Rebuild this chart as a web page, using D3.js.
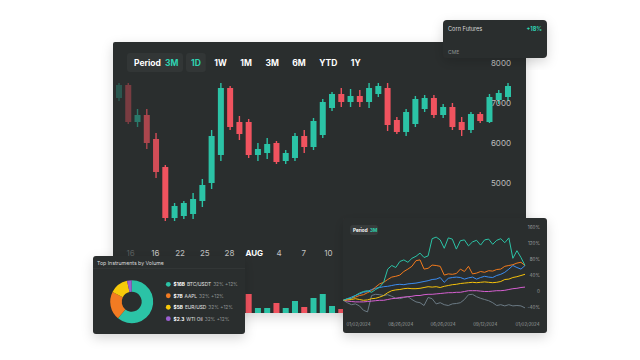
<!DOCTYPE html>
<html><head><meta charset="utf-8">
<script src="https://cdn.jsdelivr.net/npm/d3@7"></script>
<style>
html,body{margin:0;padding:0;background:#fff;}
svg{display:block;font-family:Inter,"Noto Sans",sans-serif;}
</style></head><body>
<svg id="c" width="640" height="360"></svg>
<script>
// ---------- data ----------
const candleOpen  = [7125,7450,6525,6700,6100,5400,4125,4175,4225,4550,5000,5700,7375,6525,6525,5700,5750,6000,5550,5625,6175,5900,6200,6875,7225,7025,7175,7025,7225,7375,6575,6275,6475,6850,7125,6700,6900,6525,6325,6725,6525,7075,7150];
const candleClose = [7450,6525,6700,6000,5275,4125,4425,4500,4600,4950,6175,7375,6400,6225,5700,5850,5975,5525,5750,6175,5900,6550,7025,7225,7025,7175,7025,7375,7425,6450,6275,6775,7100,7125,6700,6900,6400,6325,6725,6550,7150,7250,7425];
const candleHigh  = [7500,7500,6850,6850,6250,5450,4500,4550,4750,5100,6325,7500,7425,6675,6600,6000,6125,6050,5825,6250,6325,6625,7100,7275,7375,7350,7325,7500,7500,7500,6650,6850,7175,7200,7200,6975,7000,6650,6775,6775,7225,7325,7500];
const candleLow   = [7050,6475,6400,5850,5125,4050,4050,4100,4100,4400,4850,5550,6325,6075,5625,5550,5600,5475,5475,5550,5750,5825,6125,6800,6900,6900,6900,6875,7150,6300,6225,6175,6400,6775,6625,6625,6325,6175,6250,6500,6500,6975,7050];
const volumeM     = [0.8,1.4,0.6,1.1,1.6,2.0,0.7,0.6,0.8,0.9,1.7,2.2,1.5,0.9,1.9,0.5,0.5,1.0,0.5,1.2,0.6,1.5,1.9,0.7,0.4,0.6,0.5,0.5,0.9,0.6,1.4,0.8,0.9,1.2,0.7,0.8,0.6,1.0,0.7,0.8,0.5,1.3,0.9];
const priceTicks  = [5000,6000,7000,8000];
const dateLabels  = ["16 ","16","22","25","28","AUG","4","7","10"];
const periodButtons = ["1D","1W","1M","3M","6M","YTD","1Y"];

const cornName = "Corn Futures", cornChange = "+18%", cornExchange = "CME";

const donutTitle   = "Top Instruments by Volume";
const donutNames   = ["BTC/USDT","AAPL","EUR/USD","WTI Oil"];
const donutAmounts = ["$16B","$7B","$5B","$2.3"];
const donutShareTxt= ["32%","32%","32%","32%"];
const donutChgTxt  = ["+12%","+12%","+12%","+12%"];
const donutShare   = [61, 21.5, 14, 3.5];

const perfDates  = ["01/02/2024","08/26/2024","06/26/2024","09/12/2024","01/02/2024 "];
const perfTicks  = [-40,0,40,80,120,160];
const perfTeal   = [-22,-18,-17,-10,-4,0,2,-2,5,11,23,56,65,60,75,79,73,83,88,96,85,89,132,136,129,108,134,131,106,127,129,114,124,128,116,129,131,118,128,132,122,134,83,102,85,65];
const perfOrange = [-22,-20,-17,-14,-10,-8,-3,2,11,19,23,30,36,38,41,50,56,63,77,79,56,58,66,65,63,41,44,43,45,56,50,63,44,46,50,48,52,51,55,56,63,65,67,71,73,65];
const perfBlue   = [-22,-18,-14,-10,-6,-2,0,5,8,10,12,13,15,17,18,17,19,20,21,23,25,27,30,31,35,23,33,35,36,35,31,34,36,31,35,38,36,35,40,43,48,56,65,60,56,65];
const perfYellow = [-22,-21,-20,-18,-20,-22,-21,-18,-17,-14,-10,-3,2,4,5,7,8,7,7,8,10,12,11,12,10,13,15,17,18,20,21,22,23,22,23,24,23,22,23,25,30,31,35,37,40,43];
const perfPink   = [-22,-24,-25,-26,-26,-26,-25,-24,-23,-22,-22,-20,-18,-17,-15,-14,-13,-12,-10,-10,-8,-7,-7,-6,-5,-4,-3,-3,-2,-2,0,2,2,2,1,0,0,1,2,2,3,5,7,8,10,11];
const perfGray   = [-22,-28,-33,-31,-36,-47,-51,-10,-7,-8,-10,-8,-12,-17,-18,-15,-13,-20,-26,-28,-35,-15,-18,-31,-28,-33,-35,-31,-30,-28,-20,-8,-7,-13,-17,-20,-23,-28,-35,-33,-36,-33,-36,-35,-36,-41];

// ---------- styling ----------
const TEAL = "#2bc3a6", RED = "#f0535f", PANEL = "#2b2e2e", TEALTXT = "#2fd3b2";
const svg = d3.select("#c");
const defs = svg.append("defs");
const f = defs.append("filter").attr("id","sh").attr("x","-20%").attr("y","-20%").attr("width","140%").attr("height","150%");
f.append("feDropShadow").attr("dx",0).attr("dy",4).attr("stdDeviation",6).attr("flood-color","#000").attr("flood-opacity",0.16);

// ---------- main candlestick panel ----------
svg.append("rect").attr("x",113).attr("y",42).attr("width",413).attr("height",271).attr("rx",2)
  .attr("fill",PANEL).attr("filter","url(#sh)");

const n = candleOpen.length;
const candles = d3.range(n).map(i => ({i, o:candleOpen[i], c:candleClose[i], h:candleHigh[i], l:candleLow[i], v:volumeM[i]}));
const xC = d3.scalePoint().domain(d3.range(n)).range([119,508]);
const yP = d3.scaleLinear().domain([5000,8000]).range([183,63]);
const yV = d3.scaleLinear().domain([0,2.5]).range([313,288]);
const fade = [0.28,0.4,0.5,0.65,0.85];
const op = i => i < fade.length ? fade[i] : 1;

const cg = svg.append("g").selectAll("g").data(candles).join("g")
  .attr("opacity", d => op(d.i));
cg.append("line").attr("x1",d=>xC(d.i)).attr("x2",d=>xC(d.i))
  .attr("y1",d=>yP(d.h)).attr("y2",d=>yP(d.l))
  .attr("stroke",d=>d.c>=d.o?TEAL:RED).attr("stroke-width",1.4);
cg.append("rect").attr("x",d=>xC(d.i)-3).attr("width",6)
  .attr("y",d=>yP(Math.max(d.o,d.c))).attr("height",d=>Math.max(1,Math.abs(yP(d.o)-yP(d.c))))
  .attr("fill",d=>d.c>=d.o?TEAL:RED);

// volume bars
svg.append("g").selectAll("rect").data(candles).join("rect")
  .attr("x",d=>xC(d.i)-3).attr("width",6)
  .attr("y",d=>yV(d.v)).attr("height",d=>yV(0)-yV(d.v))
  .attr("fill",d=>d.c>=d.o?TEAL:RED).attr("opacity",d=>op(d.i));

// right price axis
const ax = svg.append("g").attr("transform","translate(511,0)")
  .call(d3.axisLeft(yP).tickValues(priceTicks).tickSize(0).tickPadding(0).tickFormat(d3.format("d")));
ax.select(".domain").remove();
ax.selectAll("text").attr("fill","#bdbdbd").attr("font-size",8).attr("font-family","Inter");

// bottom date axis
const xL = d3.scalePoint().domain(dateLabels).range([130,328]);
const bx = svg.append("g").attr("transform","translate(0,250)")
  .call(d3.axisBottom(xL).tickSize(0).tickPadding(0));
bx.select(".domain").remove();
bx.selectAll("text").attr("font-size",8).attr("font-family","Inter")
  .attr("fill",(d,i)=> i===0 ? "#5a5f5f" : (d==="AUG" ? "#ffffff" : "#c4c4c4"))
  .attr("font-weight",d=> d==="AUG" ? 700 : 400);

// period selector
const selG = svg.append("g");
selG.append("rect").attr("x",127).attr("y",53).attr("width",56).attr("height",19).attr("rx",3).attr("fill","#323636");
const pt = selG.append("text").attr("x",134).attr("y",65.5).attr("font-size",8.5).attr("font-weight",700);
pt.append("tspan").attr("fill","#fff").text("Period");
pt.append("tspan").attr("fill",TEALTXT).attr("dx",4).text("3M");
let px = 191;
periodButtons.forEach((b,i)=>{
  const bg = selG.append("rect");
  const t = selG.append("text").attr("x",px).attr("y",65.5).attr("font-size",8.5).attr("font-weight",700)
    .attr("fill", i===0 ? TEALTXT : "#fff").text(b);
  const w = t.node().getComputedTextLength();
  if(i===0){
    bg.attr("x",px-5).attr("y",53).attr("width",w+10).attr("height",19).attr("rx",3).attr("fill","#323636");
  } else bg.remove();
  px += w + 13.5;
});

// ---------- corn futures card ----------
svg.append("rect").attr("x",443).attr("y",20).attr("width",104).attr("height",38).attr("rx",4).attr("fill",PANEL).attr("filter","url(#sh)");
svg.append("text").attr("x",448).attr("y",31).attr("font-size",5.6).attr("fill","#d8d8d8").text(cornName);
svg.append("text").attr("x",542).attr("y",31).attr("text-anchor","end").attr("font-size",5.6).attr("font-weight",700).attr("fill",TEALTXT).text(cornChange);
svg.append("text").attr("x",448).attr("y",53.5).attr("font-size",5).attr("fill","#8f9494").text(cornExchange);

// ---------- donut card ----------
svg.append("rect").attr("x",93).attr("y",256).attr("width",152).attr("height",78).attr("rx",3).attr("fill",PANEL).attr("filter","url(#sh)");
svg.append("line").attr("x1",93).attr("x2",245).attr("y1",268.5).attr("y2",268.5).attr("stroke","#353939").attr("stroke-width",0.8);
svg.append("text").attr("x",97).attr("y",264.5).attr("font-size",5.2).attr("fill","#dcdcdc").text(donutTitle);
const donutColors = ["#2bc3a6","#f27b22","#f7c90a","#9b5fd0"];
const pie = d3.pie().sort(null).value(d=>d)(donutShare);
const arc = d3.arc().innerRadius(10).outerRadius(21.5);
svg.append("g").attr("transform","translate(131.7,301.7)").selectAll("path").data(pie).join("path")
  .attr("d",arc).attr("fill",(d,i)=>donutColors[i]);
const yLeg = d3.scalePoint().domain(donutNames).range([284.3,318.7]);
donutNames.forEach((nm,i)=>{
  const y = yLeg(nm);
  svg.append("circle").attr("cx",168.3).attr("cy",y).attr("r",2.4).attr("fill",donutColors[i]);
  const t = svg.append("text").attr("x",173.5).attr("y",y+1.8).attr("font-size",4.8);
  t.append("tspan").attr("font-weight",700).attr("fill","#fff").text(donutAmounts[i]);
  t.append("tspan").attr("dx",2).attr("fill","#e6e6e6").text(nm);
  t.append("tspan").attr("dx",2).attr("fill","#8e9393").text(donutShareTxt[i]+" "+donutChgTxt[i]);
});

// ---------- performance line card ----------
svg.append("rect").attr("x",343).attr("y",218).attr("width",204).attr("height",115).attr("rx",3).attr("fill",PANEL).attr("filter","url(#sh)");
svg.append("rect").attr("x",350).attr("y",225).attr("width",28).attr("height",10).attr("rx",3).attr("fill","#373b3b");
const pt2 = svg.append("text").attr("x",353).attr("y",231.6).attr("font-size",4.6).attr("font-weight",700);
pt2.append("tspan").attr("fill","#fff").text("Period");
pt2.append("tspan").attr("dx",2.5).attr("fill",TEALTXT).text("3M");

const xPerf = d3.scaleLinear().domain([0,perfTeal.length-1]).range([343.3,525]);
const yPerf = d3.scaleLinear().domain([-40,160]).range([307.5,227.5]);
const ay = svg.append("g").attr("transform","translate(540,0)")
  .call(d3.axisLeft(yPerf).tickValues(perfTicks).tickSize(0).tickPadding(0).tickFormat(d=> d===0?"0":d+"%"));
ay.select(".domain").remove();
ay.selectAll("text").attr("font-size",4.6).attr("fill","#9a9f9f").attr("font-family","Inter");
const xD = d3.scalePoint().domain(perfDates).range([358,527]);
const axd = svg.append("g").attr("transform","translate(0,322.5)")
  .call(d3.axisBottom(xD).tickSize(0).tickPadding(0));
axd.select(".domain").remove();
axd.selectAll("text").attr("font-size",4.4).attr("fill","#9a9f9f").attr("font-family","Inter");

const series = [
  {v:perfGray,c:"#6b7a84"},
  {v:perfPink,c:"#d55fd0"},
  {v:perfYellow,c:"#f5c10a"},
  {v:perfBlue,c:"#3b8cf0"},
  {v:perfOrange,c:"#f27a1c"},
  {v:perfTeal,c:"#2bc3a6"}
];
const line = d3.line().x((d,i)=>xPerf(i)).y(d=>yPerf(d));
svg.append("g").selectAll("path").data(series).join("path")
  .attr("d",d=>line(d.v)).attr("fill","none").attr("stroke",d=>d.c).attr("stroke-width",1).attr("stroke-linejoin","round");
</script>
</body></html>
